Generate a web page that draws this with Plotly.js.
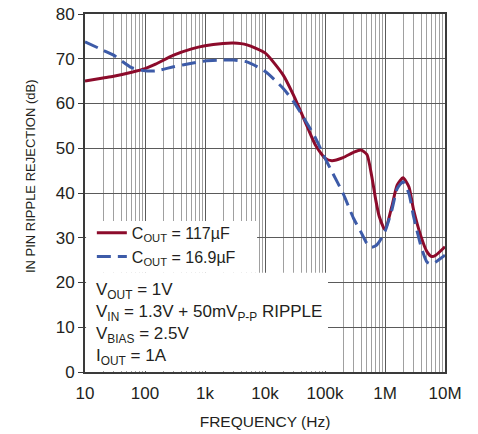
<!DOCTYPE html>
<html>
<head>
<meta charset="utf-8">
<script src="https://cdn.plot.ly/plotly-3.0.1.min.js"></script>
<style>html,body{margin:0;padding:0;background:#fff;}#chart{width:478px;height:434px;}</style>
</head>
<body>
<div id="chart"></div>
<script>
const freqHz = [10, 20, 30, 60, 100, 150, 300, 600, 1e3, 2e3, 3e3, 5e3, 1e4, 2e4, 3e4, 5e4, 7e4, 1e5, 1.3e5, 2e5, 3e5, 4e5, 5e5, 6e5, 7e5, 8e5, 1e6, 1.3e6, 1.6e6, 2e6, 2.5e6, 3e6, 4e6, 5e6, 6e6, 7e6, 1e7];
const rej117uF = [65.0, 65.7, 66.1, 67.0, 67.8, 68.8, 70.8, 72.2, 72.9, 73.4, 73.5, 73.1, 71.3, 66.4, 61.8, 55.0, 50.6, 47.8, 47.2, 47.9, 49.1, 49.6, 48.6, 43.8, 38.5, 34.8, 31.8, 37.0, 41.8, 43.4, 41.4, 36.2, 30.2, 26.9, 25.8, 26.1, 28.0];
const rej16p9uF = [73.8, 71.9, 70.8, 68.0, 67.3, 67.3, 68.2, 69.0, 69.5, 69.7, 69.7, 69.3, 67.2, 63.4, 60.4, 55.6, 52.2, 47.8, 44.8, 39.9, 34.3, 31.2, 28.7, 27.9, 28.2, 29.1, 31.4, 36.2, 41.0, 42.5, 39.9, 34.7, 28.0, 24.6, 24.1, 24.6, 26.1];
const seriesNames = ["C<sub>OUT</sub> = 117µF", "C<sub>OUT</sub> = 16.9µF"];
const xTickVals = [10, 100, 1e3, 1e4, 1e5, 1e6, 1e7];
const xTickText = ["10", "100", "1k", "10k", "100k", "1M", "10M"];
const yTickVals = [0, 10, 20, 30, 40, 50, 60, 70, 80];
const conditionLines = ["V<sub>OUT</sub> = 1V", "V<sub>IN</sub> = 1.3V + 50mV<sub>P-P</sub> RIPPLE", "V<sub>BIAS</sub> = 2.5V", "I<sub>OUT</sub> = 1A"];
const xTitle = "FREQUENCY (Hz)";
const yTitle = "IN PIN RIPPLE REJECTION (dB)";

const FONT = "'Liberation Sans', Arial, sans-serif";
const TXT = "#231f20";

const traces = [
  {x: freqHz, y: rej117uF, name: seriesNames[0], type: "scatter", mode: "lines",
   line: {color: "#8c0b2b", width: 3, shape: "spline", smoothing: 0.6}},
  {x: freqHz, y: rej16p9uF, name: seriesNames[1], type: "scatter", mode: "lines",
   line: {color: "#3d5ba8", width: 3, dash: "14px,7px", shape: "spline", smoothing: 0.6}}
];

const layout = {
  width: 478, height: 434,
  margin: {l: 85, r: 33, t: 14, b: 62},
  paper_bgcolor: "#fff", plot_bgcolor: "#fff",
  font: {family: FONT, size: 17, color: TXT},
  showlegend: true,
  legend: {x: 0.019, y: 0.436, xanchor: "left", yanchor: "top", bgcolor: "rgba(0,0,0,0)",
           font: {family: FONT, size: 16, color: TXT}, tracegroupgap: 0},
  xaxis: {type: "log", range: [1, 7], tickmode: "array", tickvals: xTickVals, ticktext: xTickText,
          showgrid: true, gridcolor: "#5a5a5a", gridwidth: 1,
          minor: {dtick: "D1", showgrid: true, gridcolor: "#a0a0a0", gridwidth: 1, ticks: ""},
          showline: true, mirror: true, linecolor: "#3a3a3a", linewidth: 2,
          ticks: "", zeroline: false, ticklabelstandoff: 5,
          tickfont: {family: FONT, size: 17, color: TXT},
          title: {text: xTitle, font: {family: FONT, size: 15.5, color: TXT}, standoff: 14}},
  yaxis: {range: [0, 80], tickmode: "array", tickvals: yTickVals,
          showgrid: true, gridcolor: "#5a5a5a", gridwidth: 1,
          showline: true, mirror: true, linecolor: "#3a3a3a", linewidth: 2,
          ticks: "outside", ticklen: 5, tickcolor: "#3a3a3a", zeroline: false,
          tickfont: {family: FONT, size: 17, color: TXT}},
  shapes: [
    {type: "rect", xref: "paper", yref: "paper", x0: 0.003, x1: 0.478, y0: 0.277, y1: 0.422,
     fillcolor: "#fff", line: {width: 0}, layer: "above"},
    {type: "rect", xref: "paper", yref: "paper", x0: 0.003, x1: 0.675, y0: 0.003, y1: 0.277,
     fillcolor: "#fff", line: {width: 0}, layer: "above"}
  ],
  annotations: [
    {xref: "paper", yref: "paper", x: 0.025, y: 0.262, xanchor: "left", yanchor: "top",
     align: "left", showarrow: false, text: conditionLines.join("<br>"),
     font: {family: FONT, size: 17, color: TXT}},
    {xref: "paper", yref: "paper", x: -0.153, y: 0.547, xanchor: "center", yanchor: "middle",
     textangle: -90, showarrow: false, text: yTitle,
     font: {family: FONT, size: 13, color: TXT}}
  ]
};

Plotly.newPlot("chart", traces, layout, {displayModeBar: false, staticPlot: true});
</script>
</body>
</html>
